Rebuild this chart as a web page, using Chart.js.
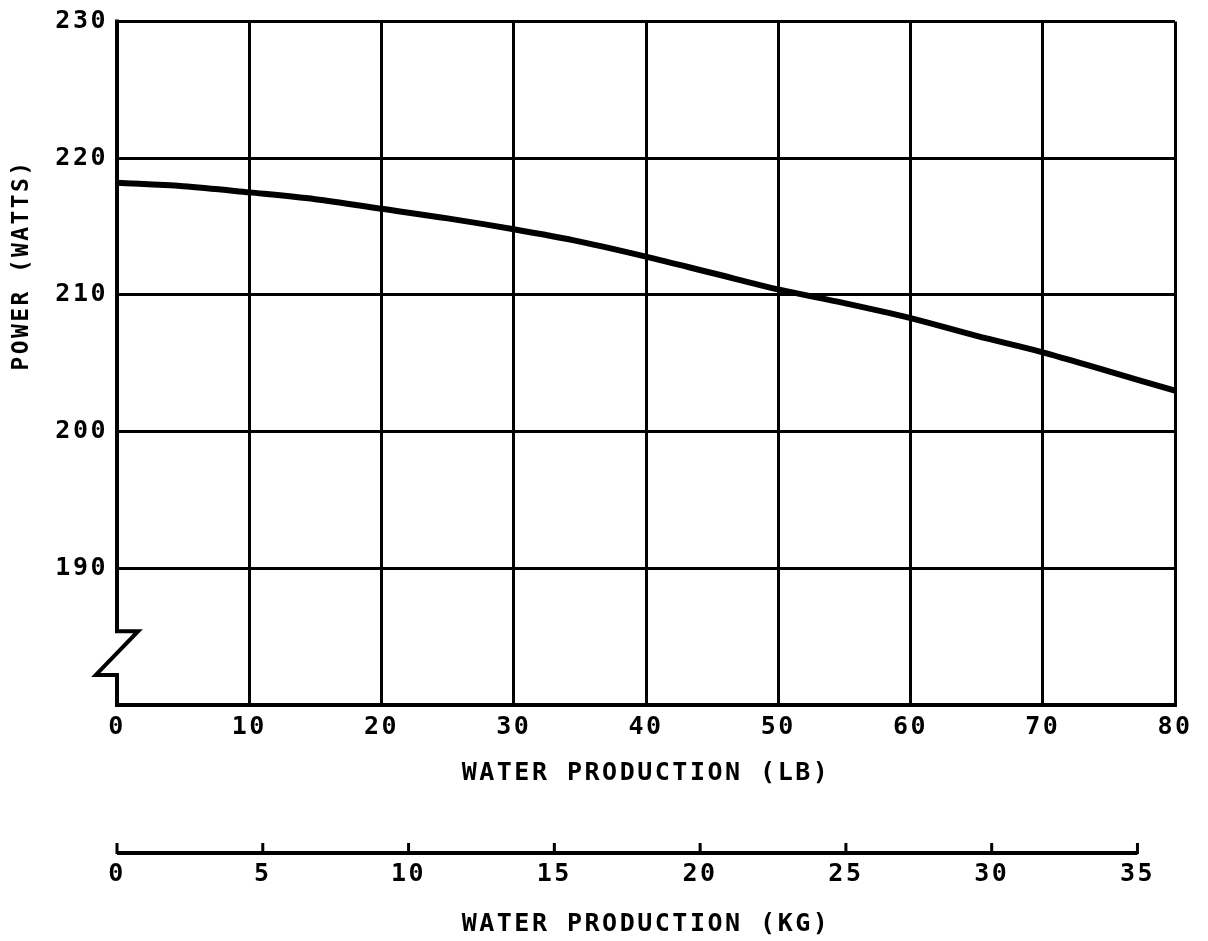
<!DOCTYPE html>
<html><head><meta charset="utf-8">
<script src="https://cdn.jsdelivr.net/npm/chart.js@4/dist/chart.umd.min.js"></script>
<style>html,body{margin:0;padding:0;background:#fff}#wrap{width:1208px;height:941px}</style>
</head><body><div id="wrap"><canvas id="c" width="1208" height="941"></canvas></div>
<script>
// ---- data ----
const waterLb = [0, 5, 10, 15, 20, 25, 30, 35, 40, 45, 50, 55, 60, 65, 70, 75, 80];
const powerWatts = [218.2, 217.95, 217.5, 217.0, 216.3, 215.6, 214.8, 213.9, 212.8, 211.6, 210.4, 209.4, 208.3, 207.0, 205.8, 204.4, 203.0];
const powerTicks = [190, 200, 210, 220, 230];
const lbTicks = [0, 10, 20, 30, 40, 50, 60, 70, 80];
const kgTicks = [0, 5, 10, 15, 20, 25, 30, 35];
const LB_PER_KG = 2.20462;
const yTitle = 'POWER (WATTS)';
const xTitleLb = 'WATER PRODUCTION (LB)';
const xTitleKg = 'WATER PRODUCTION (KG)';

const FONT = 'DejaVu Sans Mono';
Chart.defaults.font.family = FONT;
Chart.defaults.font.weight = 'bold';
Chart.defaults.font.size = 25;
Chart.defaults.color = '#000';

const SPACING = '2.5px';
const decor = {
  id: 'decor',
  beforeLayout(chart) { chart.ctx.letterSpacing = SPACING; },
  beforeDraw(chart) { chart.ctx.letterSpacing = SPACING; },
  afterDraw(chart) {
    const { ctx, scales: { x, y, x2 } } = chart;
    ctx.save();
    ctx.strokeStyle = '#000';
    ctx.lineWidth = 4;
    ctx.lineJoin = 'miter';
    ctx.lineCap = 'square';
    // left border with axis break
    const x0 = x.getPixelForValue(0);
    const yTop = y.getPixelForValue(y.max), yBot = y.getPixelForValue(y.min);
    const yb1 = y.getPixelForValue(185.4), yb2 = y.getPixelForValue(182.2);
    ctx.beginPath();
    ctx.moveTo(x0, yTop);
    ctx.lineTo(x0, yb1);
    ctx.lineTo(x.getPixelForValue(1.6), yb1);
    ctx.lineTo(x.getPixelForValue(-1.6), yb2);
    ctx.lineTo(x0, yb2);
    ctx.lineTo(x0, yBot);
    ctx.stroke();
    // kg axis line with upward ticks
    const ky = x2.top;
    ctx.lineCap = 'butt';
    ctx.beginPath();
    ctx.moveTo(x2.getPixelForValue(kgTicks[0]), ky);
    ctx.lineTo(x2.getPixelForValue(kgTicks[kgTicks.length - 1]), ky);
    ctx.stroke();
    ctx.lineWidth = 3;
    kgTicks.forEach(v => {
      const px = x2.getPixelForValue(v);
      ctx.beginPath();
      ctx.moveTo(px, ky + 1);
      ctx.lineTo(px, ky - 10);
      ctx.stroke();
    });
    // y title
    ctx.letterSpacing = '2.4px';
    ctx.fillStyle = '#000';
    ctx.font = 'bold 23px ' + FONT;
    ctx.translate(22, 265);
    ctx.rotate(-Math.PI / 2);
    ctx.textAlign = 'center';
    ctx.textBaseline = 'middle';
    ctx.fillText(yTitle, 0, 0);
    ctx.restore();
  }
};

const points = waterLb.map((v, i) => ({ x: v, y: powerWatts[i] }));

new Chart(document.getElementById('c'), {
  type: 'line',
  data: {
    datasets: [{
      data: points,
      borderColor: '#000',
      borderWidth: 6,
      pointRadius: 0,
      cubicInterpolationMode: 'monotone',
      fill: false
    }]
  },
  options: {
    responsive: false,
    animation: false,
    devicePixelRatio: 1,
    layout: { padding: { left: 0, right: 33, top: 17, bottom: 0 } },
    plugins: { legend: { display: false }, tooltip: { enabled: false } },
    scales: {
      x: {
        type: 'linear', position: 'bottom', min: 0, max: 80,
        afterBuildTicks: s => { s.ticks = lbTicks.map(v => ({ value: v })); },
        afterFit: s => { s.height = 148; },
        grid: {
          color: c => (c.tick && c.tick.value === 0) ? 'rgba(0,0,0,0)' : '#000',
          lineWidth: 3, drawTicks: false
        },
        border: { display: true, color: '#000', width: 4 },
        ticks: { padding: 7, maxRotation: 0, autoSkip: false },
        title: { display: true, text: xTitleLb, padding: { top: 0, bottom: 65 } }
      },
      x2: {
        type: 'linear', position: 'bottom', min: 0, max: 80 / LB_PER_KG,
        afterBuildTicks: s => { s.ticks = kgTicks.map(v => ({ value: v })); },
        afterFit: s => { s.height = 88; },
        grid: { display: false, drawTicks: false, drawOnChartArea: false },
        border: { display: false },
        ticks: { padding: 6, maxRotation: 0, autoSkip: false },
        title: { display: true, text: xTitleKg, padding: { top: 0, bottom: 2 } }
      },
      y: {
        type: 'linear', min: 180, max: 230,
        afterBuildTicks: s => { s.ticks = powerTicks.map(v => ({ value: v })); },
        afterFit: s => { s.width = 117; },
        grid: { color: '#000', lineWidth: 3, drawTicks: false },
        border: { display: false },
        ticks: { padding: 9, font: { lineHeight: 1.0 } }
      }
    }
  },
  plugins: [decor]
});
</script>
</body></html>
